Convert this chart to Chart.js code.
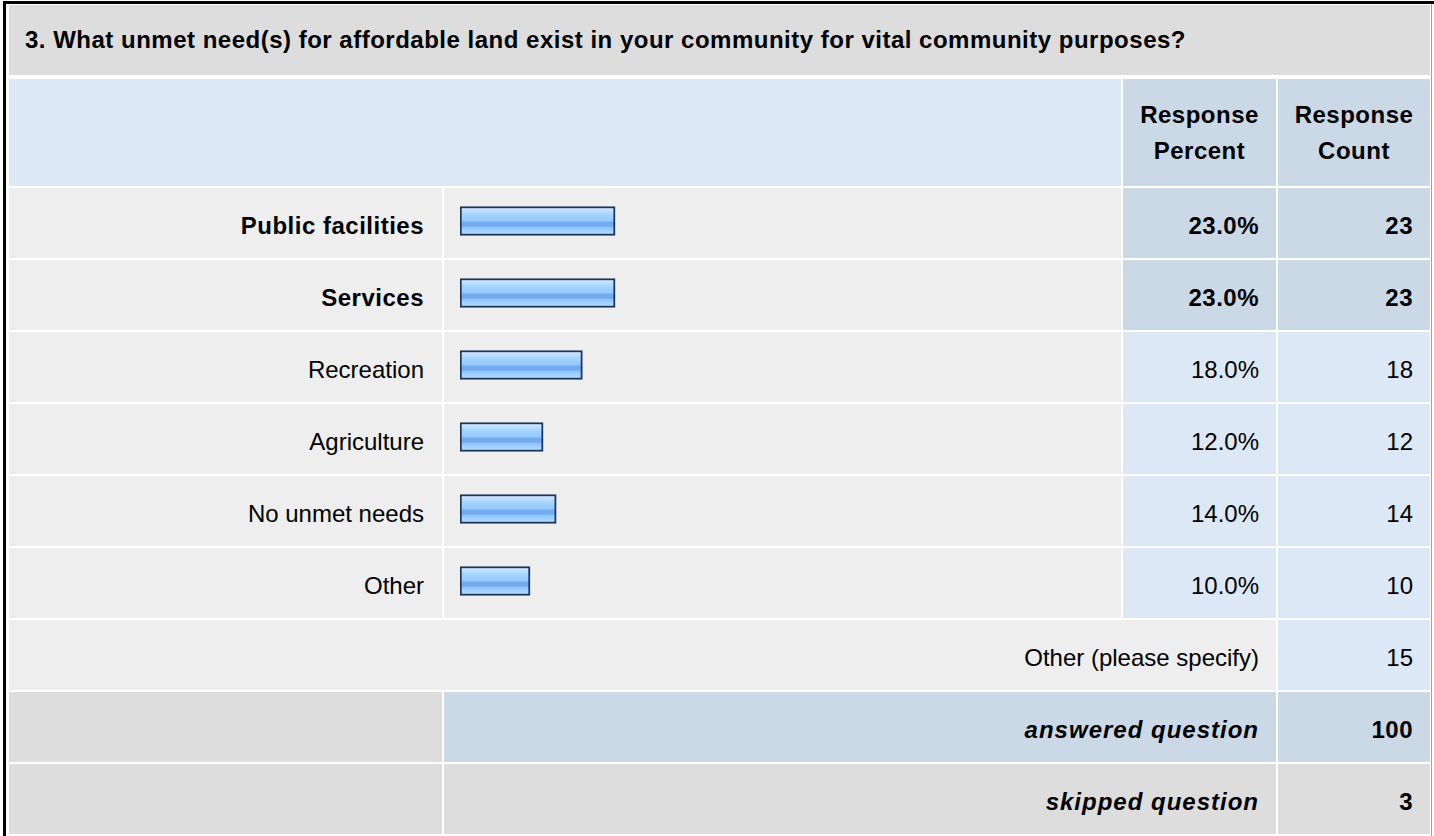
<!DOCTYPE html>
<html>
<head>
<meta charset="utf-8">
<script src="https://cdn.jsdelivr.net/npm/chart.js@4/dist/chart.umd.min.js"></script>
<style>
  html, body { margin: 0; padding: 0; background: #ffffff; width: 1434px; height: 836px; overflow: hidden; }
  body { font-family: "Liberation Sans", Arial, sans-serif; color: #000; position: relative; }
  #frameTop { position: absolute; left: 3px; top: 1px; width: 1431px; height: 3px; background: #000; }
  #frameLeft { position: absolute; left: 3px; top: 1px; width: 3px; height: 835px; background: #000; }
  #frameRight { position: absolute; left: 1431px; top: 4px; width: 1px; height: 832px; background: #a0a0a0; }
  #title { position: absolute; left: 9px; top: 5px; width: 1405px; height: 70px; padding-left: 16px;
           background: #dddddd; font-weight: bold; font-size: 24px; letter-spacing: 0.5px; line-height: 70px; white-space: nowrap; }
  #tbl { position: absolute; left: 7px; top: 77px; border-collapse: separate; border-spacing: 2px; table-layout: fixed; }
  #tbl td { padding: 6px 0 0 0; font-size: 24px; height: 64px; white-space: nowrap; vertical-align: middle; }
  #tbl td.hd { padding-top: 0; }
  #tbl td.r { text-align: right; }
  #tbl td.c { text-align: center; }
  .b { font-weight: bold; letter-spacing: 0.5px; }
  .bi { font-weight: bold; font-style: italic; letter-spacing: 1px; }
  .g1 { background: #eeeeee; }
  .g2 { background: #dddddd; }
  .lb { background: #dce8f5; }
  .db { background: #cbd8e6; }
  #chartWrap { position: absolute; left: 444px; top: 185px; width: 677px; height: 432px; pointer-events: none; }
</style>
</head>
<body>
<div id="frameTop"></div>
<div id="frameLeft"></div>
<div id="frameRight"></div>
<div id="title"></div>
<table id="tbl"></table>
<div id="chartWrap"><canvas id="c" width="677" height="432"></canvas></div>
<script>
// ---- data ----
const questionTitle = "3. What unmet need(s) for affordable land exist in your community for vital community purposes?";
const headerPercent = ["Response", "Percent"];
const headerCount = ["Response", "Count"];
const categories = ["Public facilities", "Services", "Recreation", "Agriculture", "No unmet needs", "Other"];
const percents = [23.0, 23.0, 18.0, 12.0, 14.0, 10.0];
const counts = [23, 23, 18, 12, 14, 10];
const otherSpecifyLabel = "Other (please specify)";
const otherSpecifyCount = 15;
const answeredLabel = "answered question";
const answeredCount = 100;
const skippedLabel = "skipped question";
const skippedCount = 3;

// ---- table ----
document.getElementById('title').textContent = questionTitle;
const tbl = document.getElementById('tbl');
const colW = [433, 677, 153, 152];
const cg = document.createElement('colgroup');
colW.forEach(w => { const c = document.createElement('col'); c.style.width = w + 'px'; cg.appendChild(c); });
tbl.appendChild(cg);

function cell(tr, cls, html, opts) {
  const td = document.createElement('td');
  td.className = cls;
  if (opts && opts.colSpan) td.colSpan = opts.colSpan;
  if (opts && opts.pr !== undefined) td.style.paddingRight = opts.pr + 'px';
  if (opts && opts.h) td.style.height = opts.h + 'px';
  td.innerHTML = html;
  tr.appendChild(td);
  return td;
}
// header
let tr = document.createElement('tr');
cell(tr, 'lb hd', '', { colSpan: 2, h: 107 });
cell(tr, 'db c b hd', '<div style="line-height:36px">' + headerPercent.join('<br>') + '</div>', { h: 107 });
cell(tr, 'db c b hd', '<div style="line-height:36px">' + headerCount.join('<br>') + '</div>', { h: 107 });
tbl.appendChild(tr);

const maxP = Math.max(...percents);
categories.forEach((cat, i) => {
  const top = percents[i] === maxP;
  const row = document.createElement('tr');
  cell(row, 'g1 r' + (top ? ' b' : ''), cat, { pr: 18 });
  cell(row, 'g1', '');
  cell(row, (top ? 'db' : 'lb') + ' r' + (top ? ' b' : ''), percents[i].toFixed(1) + '%', { pr: 17 });
  cell(row, (top ? 'db' : 'lb') + ' r' + (top ? ' b' : ''), String(counts[i]), { pr: 17 });
  tbl.appendChild(row);
});
tr = document.createElement('tr');
cell(tr, 'g1 r', otherSpecifyLabel, { colSpan: 3, pr: 17 });
cell(tr, 'lb r', String(otherSpecifyCount), { pr: 17 });
tbl.appendChild(tr);
tr = document.createElement('tr');
cell(tr, 'g2', '');
cell(tr, 'db r bi', answeredLabel, { colSpan: 2, pr: 17 });
cell(tr, 'db r b', String(answeredCount), { pr: 17 });
tbl.appendChild(tr);
tr = document.createElement('tr');
cell(tr, 'g2', '');
cell(tr, 'g2 r bi', skippedLabel, { colSpan: 2, pr: 17 });
cell(tr, 'g2 r b', String(skippedCount), { pr: 17 });
tbl.appendChild(tr);

// ---- bars ----
const BAR_H = 29;
function barGradient(ctx) {
  const chart = ctx.chart;
  if (!chart.chartArea || !chart.scales.y) return '#93c9ff';
  const yc = chart.scales.y.getPixelForValue(ctx.dataIndex);
  const g = chart.ctx.createLinearGradient(0, yc - BAR_H / 2, 0, yc + BAR_H / 2);
  g.addColorStop(0.00, '#d8edff');
  g.addColorStop(0.12, '#c2e1ff');
  g.addColorStop(0.30, '#a3d2ff');
  g.addColorStop(0.50, '#94c9ff');
  g.addColorStop(0.54, '#73acec');
  g.addColorStop(0.68, '#73acec');
  g.addColorStop(0.72, '#8ec5ff');
  g.addColorStop(0.88, '#a8d5ff');
  g.addColorStop(1.00, '#a8d5ff');
  return g;
}
new Chart(document.getElementById('c'), {
  type: 'bar',
  data: {
    labels: categories,
    datasets: [{
      data: percents,
      base: -0.7,
      backgroundColor: barGradient,
      borderColor: '#1d355a',
      borderWidth: 2,
      borderSkipped: false,
      barThickness: BAR_H
    }]
  },
  options: {
    indexAxis: 'y',
    responsive: false,
    animation: false,
    events: [],
    layout: { padding: { left: 16, right: 2, top: 0, bottom: 0 } },
    plugins: { legend: { display: false }, tooltip: { enabled: false } },
    scales: {
      x: { type: 'linear', min: -0.7, max: 100, display: false, grid: { display: false } },
      y: { type: 'category', display: false, grid: { display: false } }
    }
  }
});
</script>
</body>
</html>
